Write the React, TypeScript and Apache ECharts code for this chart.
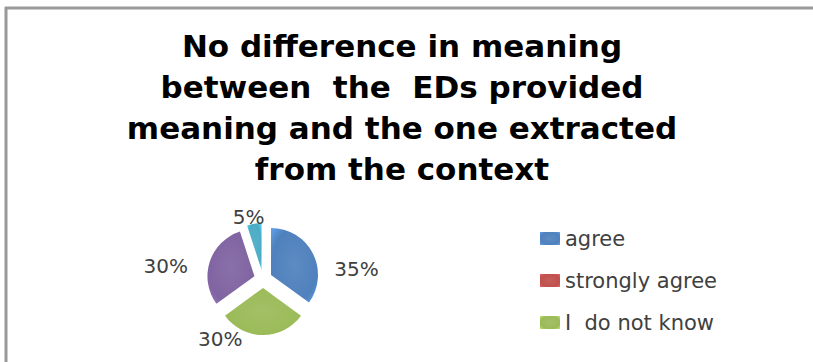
import React, { useEffect, useRef } from "react";
import * as echarts from "echarts";

const titleLines = [
  "No difference in meaning",
  "between  the  EDs provided",
  "meaning and the one extracted",
  "from the context",
];
const categories = ["agree", "strongly agree", "I  do not know", "disagree", "strongly disagree"];
const values = [35, 0, 30, 30, 5];
const legendItems = ["agree", "strongly agree", "I  do not know"];
const colors = ["#4F81BD", "#C0504D", "#9BBB59", "#8064A2", "#4BACC6"];
const labelOffsets = [[12, 18], [0, 0], [-70, -1], [-12, 6], [16, -2]];

function shade(c: string) {
  return new echarts.graphic.RadialGradient(0.5, 0.5, 0.7, [
    { offset: 0, color: echarts.color.lift(c, 0.08) as string },
    { offset: 0.7, color: c },
    { offset: 1, color: echarts.color.lift(c, -0.25) as string },
  ]);
}

export default function App() {
  const ref = useRef<HTMLDivElement>(null);
  useEffect(() => {
    const chart = echarts.init(ref.current!, null, { renderer: "svg" });
    chart.setOption({
      animation: false,
      backgroundColor: "#ffffff",
      title: {
        text: titleLines.join("\n"),
        left: 397,
        textAlign: "center",
        top: 20,
        textStyle: {
          fontFamily: "DejaVu Sans",
          fontWeight: "bold",
          fontSize: 31,
          lineHeight: 41,
          color: "#000000",
        },
      },
      legend: {
        data: legendItems,
        orient: "vertical",
        left: 535,
        top: 223,
        itemGap: 21,
        itemWidth: 20,
        itemHeight: 13,
        icon: "rect",
        textStyle: { fontFamily: "DejaVu Sans", fontSize: 21, color: "#404040" },
      },
      graphic: [
        { type: "line", shape: { x1: 5, y1: 8, x2: 813, y2: 8 }, style: { stroke: "#999999", lineWidth: 3 } },
        { type: "line", shape: { x1: 6, y1: 7, x2: 6, y2: 362 }, style: { stroke: "#999999", lineWidth: 3 } },
      ],
      series: [
        {
          type: "pie",
          center: [263, 279],
          radius: [0, 47],
          startAngle: 90,
          clockwise: true,
          selectedMode: "multiple",
          selectedOffset: 9,
          label: {
            show: true,
            position: "outside",
            formatter: "{d}%",
            fontFamily: "DejaVu Sans",
            fontSize: 20,
            color: "#404040",
          },
          labelLine: { show: false, length: 5, length2: 0 },
          labelLayout: (params: any) => {
            const o = labelOffsets[params.dataIndex] || [0, 0];
            return { dx: o[0], dy: o[1] };
          },
          emphasis: { disabled: true },
          data: categories.map((name, i) => ({
            name,
            value: values[i],
            selected: true,
            itemStyle: { color: shade(colors[i]) },
            label: { show: values[i] > 0 },
          })),
        },
      ],
    });
    return () => chart.dispose();
  }, []);
  return (
    <div
      ref={ref}
      style={{ position: "fixed", left: 0, top: 0, width: 813, height: 362 }}
    />
  );
}
